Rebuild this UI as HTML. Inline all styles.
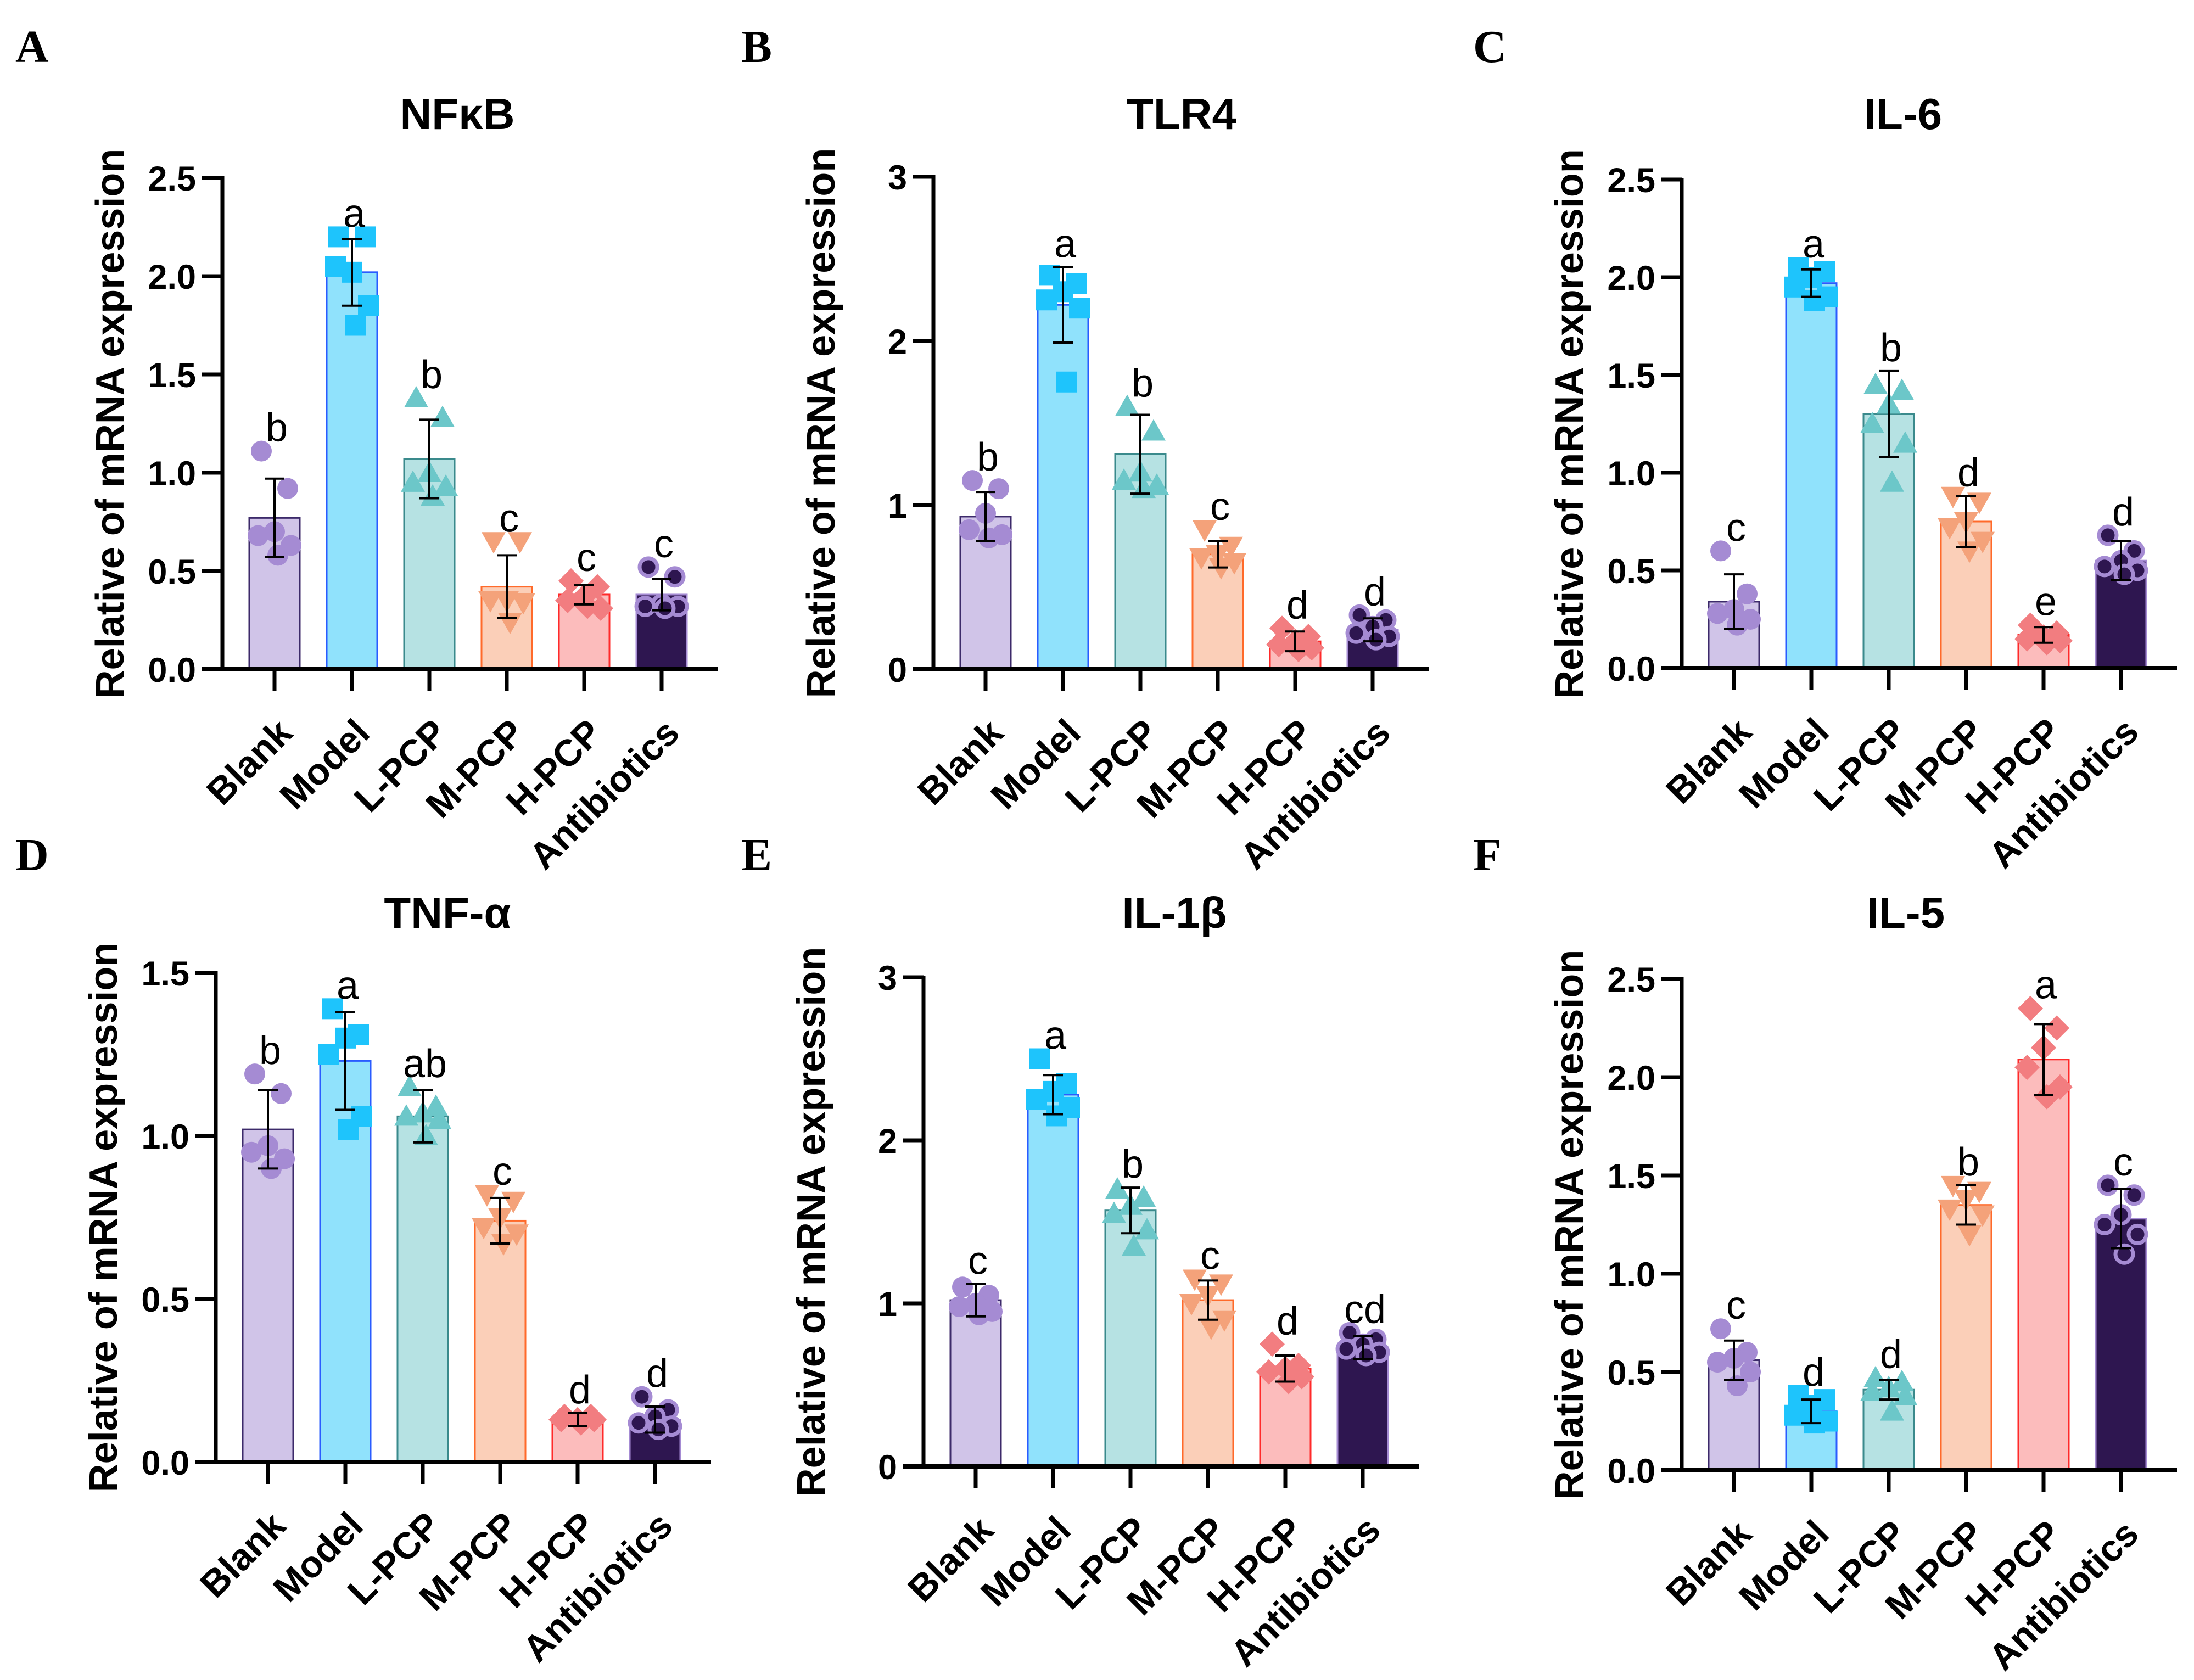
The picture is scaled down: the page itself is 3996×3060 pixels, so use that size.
<!DOCTYPE html>
<html><head><meta charset="utf-8"><style>
html,body{margin:0;padding:0;background:#fff;}
svg{display:block;}
text{font-family:"Liberation Sans",Arial,sans-serif;}
text.serif{font-family:"Liberation Serif","Times New Roman",serif;}
</style></head>
<body>
<svg id="fig" width="3996" height="3060" viewBox="0 0 3996 3060" xmlns="http://www.w3.org/2000/svg"></svg>
<script>
const groups = ["Blank","Model","L-PCP","M-PCP","H-PCP","Antibiotics"];

const nfkbMeans = [0.77,2.02,1.07,0.42,0.38,0.38];
const nfkbSD = [0.20,0.17,0.20,0.16,0.05,0.08];
const nfkbPts = [[1.11,0.92,0.70,0.68,0.63,0.58],[2.20,2.20,2.02,2.05,1.85,1.75],[1.38,1.28,1.00,0.95,0.93,0.88],[0.65,0.65,0.35,0.35,0.34,0.24],[0.45,0.42,0.37,0.35,0.31,0.32],[0.52,0.47,0.33,0.32,0.32,0.31]];
const nfkbLetters = ["b","a","b","c","c","c"];

const tlr4Means = [0.93,2.22,1.31,0.70,0.17,0.24];
const tlr4SD = [0.15,0.23,0.24,0.08,0.06,0.07];
const tlr4Pts = [[1.15,1.10,0.95,0.85,0.82,0.80],[2.40,2.35,2.30,2.25,2.20,1.75],[1.60,1.45,1.20,1.15,1.12,1.10],[0.85,0.75,0.70,0.68,0.65,0.62],[0.25,0.20,0.17,0.15,0.13,0.12],[0.33,0.30,0.26,0.22,0.20,0.18]];
const tlr4Letters = ["b","a","b","c","d","d"];

const il6Means = [0.34,1.97,1.30,0.75,0.17,0.55];
const il6SD = [0.14,0.07,0.22,0.13,0.04,0.10];
const il6Pts = [[0.60,0.38,0.30,0.28,0.25,0.22],[2.05,2.03,2.00,1.95,1.90,1.88],[1.45,1.42,1.35,1.25,1.15,0.95],[0.88,0.85,0.75,0.72,0.65,0.60],[0.22,0.18,0.16,0.15,0.14,0.13],[0.68,0.60,0.55,0.52,0.50,0.48]];
const il6Letters = ["c","a","b","d","e","d"];

const tnfMeans = [1.02,1.23,1.06,0.74,0.13,0.13];
const tnfSD = [0.12,0.15,0.08,0.07,0.02,0.04];
const tnfPts = [[1.19,1.13,0.97,0.95,0.93,0.90],[1.39,1.31,1.30,1.25,1.06,1.02],[1.15,1.09,1.07,1.06,1.05,1.00],[0.82,0.80,0.75,0.72,0.70,0.67],[0.14,0.14,0.13,0.13,0.13,0.12],[0.20,0.16,0.14,0.12,0.11,0.10]];
const tnfLetters = ["b","a","ab","c","d","d"];

const il1bMeans = [1.02,2.28,1.57,1.02,0.60,0.73];
const il1bSD = [0.10,0.12,0.14,0.12,0.08,0.07];
const il1bPts = [[1.10,1.05,1.00,0.98,0.95,0.93],[2.50,2.35,2.30,2.25,2.20,2.15],[1.70,1.65,1.60,1.55,1.45,1.35],[1.15,1.12,1.05,1.00,0.90,0.85],[0.75,0.62,0.60,0.58,0.55,0.52],[0.82,0.78,0.75,0.72,0.70,0.68]];
const il1bLetters = ["c","a","b","c","d","cd"];

const il5Means = [0.56,0.30,0.41,1.35,2.09,1.28];
const il5SD = [0.10,0.06,0.05,0.10,0.18,0.15];
const il5Pts = [[0.72,0.60,0.57,0.55,0.50,0.43],[0.38,0.36,0.33,0.28,0.25,0.24],[0.47,0.45,0.42,0.40,0.38,0.30],[1.45,1.42,1.38,1.33,1.30,1.20],[2.35,2.25,2.15,2.05,1.95,1.90],[1.45,1.40,1.30,1.25,1.20,1.10]];
const il5Letters = ["c","d","d","b","a","c"];

const ticks25 = [0,0.5,1.0,1.5,2.0,2.5];
const tickLabels25 = ["0.0","0.5","1.0","1.5","2.0","2.5"];
const ticks3 = [0,1,2,3];
const tickLabels3 = ["0","1","2","3"];
const ticks15 = [0,0.5,1.0,1.5];
const tickLabels15 = ["0.0","0.5","1.0","1.5"];

const titles = ["NFκB","TLR4","IL-6","TNF-α","IL-1β","IL-5"];
const panelLetters = ["A","B","C","D","E","F"];

const panels = [
 {key:"nfkb",means:nfkbMeans,sd:nfkbSD,pts:nfkbPts,letters:nfkbLetters,ticks:ticks25,labels:tickLabels25,max:2.5,ax:405,top:324,y0:1219,tx:833,ty:235,lx:28,ly:113},
 {key:"tlr4",means:tlr4Means,sd:tlr4SD,pts:tlr4Pts,letters:tlr4Letters,ticks:ticks3,labels:tickLabels3,max:3,ax:1700,top:322,y0:1219,tx:2152,ty:235,lx:1350,ly:113},
 {key:"il6",means:il6Means,sd:il6SD,pts:il6Pts,letters:il6Letters,ticks:ticks25,labels:tickLabels25,max:2.5,ax:3063,top:327,y0:1217,tx:3466,ty:235,lx:2683,ly:113},
 {key:"tnf",means:tnfMeans,sd:tnfSD,pts:tnfPts,letters:tnfLetters,ticks:ticks15,labels:tickLabels15,max:1.5,ax:393,top:1772,y0:2663,tx:815,ty:1690,lx:28,ly:1585},
 {key:"il1b",means:il1bMeans,sd:il1bSD,pts:il1bPts,letters:il1bLetters,ticks:ticks3,labels:tickLabels3,max:3,ax:1682,top:1780,y0:2671,tx:2139,ty:1690,lx:1350,ly:1585},
 {key:"il5",means:il5Means,sd:il5SD,pts:il5Pts,letters:il5Letters,ticks:ticks25,labels:tickLabels25,max:2.5,ax:3063,top:1783,y0:2678,tx:3471,ty:1690,lx:2683,ly:1585}
];

const barFill = ["#d0c4e8","#90e2fc","#b6e2e3","#fbcfb8","#fcbcbc","#2e1650"];
const barStroke = ["#3c2a6a","#2a5cff","#3a8a8c","#ff6a2a","#ff2a2a","#a58bd3"];
const ptColor = ["#a58bd3","#1ec4fc","#6cc7c9","#f4a27a","#f27d80","#2e1650"];
const jitter = [-24,24,0,-30,30,6];

const NS = "http://www.w3.org/2000/svg";
const svg = document.getElementById("fig");
function mk(tag, attrs, parent){
  const e = document.createElementNS(NS, tag);
  for (const k in attrs) e.setAttribute(k, attrs[k]);
  (parent||svg).appendChild(e);
  return e;
}

panels.forEach((p, pi) => {
  const g = mk("g", {});
  
  
  const yS = v => p.y0 - v / p.max * (p.y0 - p.top);
  const xS = i => p.ax + 95 + i * 141;

  const pl = mk("text", {x:p.lx, y:p.ly, class:"serif", "font-weight":"bold", "font-size":84, fill:"#000"}, g);
  pl.textContent = panelLetters[pi];
  
  

  const t = mk("text", {x:p.tx, y:p.ty, "text-anchor":"middle", "font-weight":"bold", "font-size":80, fill:"#000"}, g);
  t.textContent = titles[pi];
  
  

  const cy = (p.top + p.y0) / 2;
  const yt = mk("text", {x:0, y:0, transform:`translate(${p.ax-180},${cy}) rotate(-90)`, "text-anchor":"middle", "font-weight":"bold", "font-size":72, fill:"#000"}, g);
  yt.textContent = "Relative of mRNA expression";
  
  

  groups.forEach((gr, i) => {
    const y = yS(p.means[i]);
    const r = mk("rect", {x:xS(i)-46, y:y, width:92, height:p.y0-y, fill:barFill[i], stroke:barStroke[i], "stroke-width":3}, g);
    
    
  });

  groups.forEach((gr, i) => {
    p.pts[i].forEach((v, j) => {
      const cx = xS(i) + jitter[j], py = yS(v);
      let m;
      if (i === 0) m = mk("circle", {cx:cx, cy:py, r:19, fill:ptColor[i]}, g);
      else if (i === 1) m = mk("rect", {x:cx-19, y:py-19, width:38, height:38, fill:ptColor[i]}, g);
      else if (i === 2) m = mk("polygon", {points:`${cx},${py-22} ${cx-22},${py+17} ${cx+22},${py+17}`, fill:ptColor[i]}, g);
      else if (i === 3) m = mk("polygon", {points:`${cx},${py+22} ${cx-22},${py-17} ${cx+22},${py-17}`, fill:ptColor[i]}, g);
      else if (i === 4) m = mk("polygon", {points:`${cx},${py-23} ${cx+23},${py} ${cx},${py+23} ${cx-23},${py}`, fill:ptColor[i]}, g);
      else m = mk("circle", {cx:cx, cy:py, r:16, fill:ptColor[i], stroke:"#a58bd3", "stroke-width":7}, g);
      
      
    });
  });

  groups.forEach((gr, i) => {
    const x = xS(i), hi = yS(p.means[i] + p.sd[i]), lo = yS(Math.max(0, p.means[i] - p.sd[i]));
    const eb = mk("path", {d:`M${x},${hi}V${lo}M${x-18},${hi}H${x+18}M${x-18},${lo}H${x+18}`, stroke:"#000", "stroke-width":4, fill:"none"}, g);
    
    
  });

  groups.forEach((gr, i) => {
    const top = Math.max(p.means[i] + p.sd[i], Math.max(...p.pts[i]));
    const lt = mk("text", {x:xS(i) + 4, y:yS(top) - 18, "text-anchor":"middle", "font-size":72, fill:"#000"}, g);
    lt.textContent = p.letters[i];
    
    
  });

  const ya = mk("line", {x1:p.ax, y1:p.top-3, x2:p.ax, y2:p.y0, stroke:"#000", "stroke-width":7}, g);
  
  
  const xa = mk("line", {x1:p.ax-37, y1:p.y0, x2:p.ax+902, y2:p.y0, stroke:"#000", "stroke-width":8}, g);
  
  

  p.ticks.forEach((tv, k) => {
    const y = yS(tv);
    const tk = mk("line", {x1:p.ax-37, y1:y, x2:p.ax, y2:y, stroke:"#000", "stroke-width":7}, g);
    
    
    const tl = mk("text", {x:p.ax-48, y:y+23, "text-anchor":"end", "font-weight":"bold", "font-size":63, fill:"#000"}, g);
    tl.textContent = p.labels[k];
    
    
  });

  groups.forEach((gr, i) => {
    const x = xS(i);
    const tk = mk("line", {x1:x, y1:p.y0, x2:x, y2:p.y0+40, stroke:"#000", "stroke-width":7}, g);
    
    
    const tl = mk("text", {x:0, y:0, transform:`translate(${x+36},${p.y0+120}) rotate(-45)`, "text-anchor":"end", "font-weight":"bold", "font-size":68, fill:"#000"}, g);
    tl.textContent = gr;
    
    
  });
});
</script>
</body></html>
